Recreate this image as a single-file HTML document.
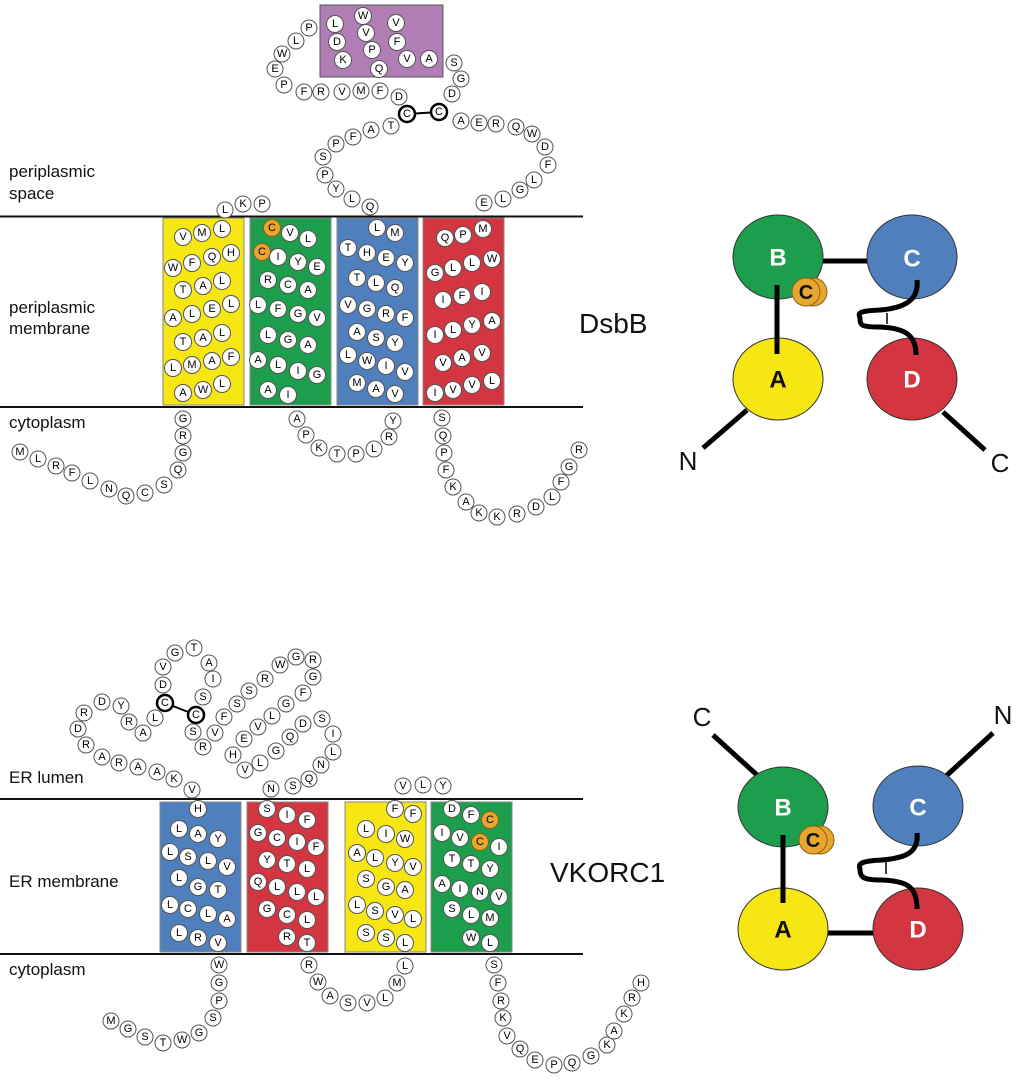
<!DOCTYPE html>
<html><head><meta charset="utf-8">
<style>
html,body{margin:0;padding:0;background:#fff;}
svg{display:block;}
.r circle{fill:#fff;stroke:#555;stroke-width:1;}
.r text{font-family:"Liberation Sans",sans-serif;font-size:11px;text-anchor:middle;dominant-baseline:central;fill:#000;}
.o circle{fill:#e8a631;stroke:#8a6010;}
.b circle{stroke:#000;stroke-width:2.5;}
.lab{font-family:"Liberation Sans",sans-serif;font-size:17px;fill:#111;}
.big{font-family:"Liberation Sans",sans-serif;font-size:28px;fill:#111;}
.dl{font-family:"Liberation Sans",sans-serif;font-size:24px;font-weight:bold;text-anchor:middle;dominant-baseline:central;}
.nl{font-family:"Liberation Sans",sans-serif;font-size:26px;text-anchor:middle;dominant-baseline:central;fill:#111;}
</style></head><body>
<svg width="1024" height="1081" viewBox="0 0 1024 1081" xmlns="http://www.w3.org/2000/svg">
<!-- DsbB membrane -->
<rect x="320" y="5" width="123" height="72" fill="#b07eb5" stroke="#555" stroke-width="1"/>
<rect x="163" y="218" width="81" height="187" fill="#f5e614" stroke="#888"/>
<rect x="250" y="218" width="81" height="187" fill="#1d9e4c" stroke="#888"/>
<rect x="337" y="218" width="81" height="187" fill="#4f80bd" stroke="#888"/>
<rect x="423" y="218" width="81" height="187" fill="#d33641" stroke="#888"/>
<line x1="0" y1="216.5" x2="583" y2="216.5" stroke="#111" stroke-width="2"/>
<line x1="0" y1="407" x2="583" y2="407" stroke="#111" stroke-width="2"/>
<line x1="407" y1="114" x2="439" y2="112" stroke="#000" stroke-width="2"/>
<text class="lab" x="9" y="177">periplasmic</text>
<text class="lab" x="9" y="199">space</text>
<text class="lab" x="9" y="313">periplasmic</text>
<text class="lab" x="9" y="334">membrane</text>
<text class="lab" x="9" y="428">cytoplasm</text>
<text class="big" x="579" y="333">DsbB</text>

<g class="r">
<!-- purple box -->
<g transform="translate(335,24)"><circle r="8.5"/><text>L</text></g>
<g transform="translate(363,16)"><circle r="8.5"/><text>W</text></g>
<g transform="translate(396,23)"><circle r="8.5"/><text>V</text></g>
<g transform="translate(337,42)"><circle r="8.5"/><text>D</text></g>
<g transform="translate(366,33)"><circle r="8.5"/><text>V</text></g>
<g transform="translate(397,42)"><circle r="8.5"/><text>F</text></g>
<g transform="translate(343,60)"><circle r="8.5"/><text>K</text></g>
<g transform="translate(372,50)"><circle r="8.5"/><text>P</text></g>
<g transform="translate(407,59)"><circle r="8.5"/><text>V</text></g>
<g transform="translate(429,59)"><circle r="8.5"/><text>A</text></g>
<g transform="translate(379,69)"><circle r="8.5"/><text>Q</text></g>
<!-- loop -->
<g transform="translate(309,28)"><circle r="8"/><text>P</text></g>
<g transform="translate(296,41)"><circle r="8"/><text>L</text></g>
<g transform="translate(282,54)"><circle r="8"/><text>W</text></g>
<g transform="translate(275,69)"><circle r="8"/><text>E</text></g>
<g transform="translate(284,85)"><circle r="8"/><text>P</text></g>
<g transform="translate(304,92)"><circle r="8"/><text>F</text></g>
<g transform="translate(321,92)"><circle r="8"/><text>R</text></g>
<g transform="translate(342,92)"><circle r="8"/><text>V</text></g>
<g transform="translate(361,91)"><circle r="8"/><text>M</text></g>
<g transform="translate(380,91)"><circle r="8"/><text>F</text></g>
<g transform="translate(399,97)"><circle r="8"/><text>D</text></g>
<g class="b" transform="translate(407,114)"><circle r="8"/><text>C</text></g>
<g class="b" transform="translate(439,112)"><circle r="8"/><text>C</text></g>
<g transform="translate(452,94)"><circle r="8"/><text>D</text></g>
<g transform="translate(461,79)"><circle r="8"/><text>G</text></g>
<g transform="translate(454,63)"><circle r="8"/><text>S</text></g>
<g transform="translate(461,121)"><circle r="8"/><text>A</text></g>
<g transform="translate(479,123)"><circle r="8"/><text>E</text></g>
<g transform="translate(496,124)"><circle r="8"/><text>R</text></g>
<g transform="translate(516,127)"><circle r="8"/><text>Q</text></g>
<g transform="translate(532,134)"><circle r="8"/><text>W</text></g>
<g transform="translate(545,147)"><circle r="8"/><text>D</text></g>
<g transform="translate(548,165)"><circle r="8"/><text>F</text></g>
<g transform="translate(534,180)"><circle r="8"/><text>L</text></g>
<g transform="translate(520,190)"><circle r="8"/><text>G</text></g>
<g transform="translate(503,199)"><circle r="8"/><text>L</text></g>
<g transform="translate(484,203)"><circle r="8"/><text>E</text></g>
<g transform="translate(391,126)"><circle r="8"/><text>T</text></g>
<g transform="translate(371,130)"><circle r="8"/><text>A</text></g>
<g transform="translate(353,137)"><circle r="8"/><text>F</text></g>
<g transform="translate(336,144)"><circle r="8"/><text>P</text></g>
<g transform="translate(323,157)"><circle r="8"/><text>S</text></g>
<g transform="translate(325,175)"><circle r="8"/><text>P</text></g>
<g transform="translate(336,189)"><circle r="8"/><text>Y</text></g>
<g transform="translate(352,199)"><circle r="8"/><text>L</text></g>
<g transform="translate(370,207)"><circle r="8"/><text>Q</text></g>
<g transform="translate(225,210)"><circle r="8"/><text>L</text></g>
<g transform="translate(243,204)"><circle r="8"/><text>K</text></g>
<g transform="translate(262,204)"><circle r="8"/><text>P</text></g>
<!-- yellow -->
<g transform="translate(183,237)"><circle r="8.5"/><text>V</text></g>
<g transform="translate(202,233)"><circle r="8.5"/><text>M</text></g>
<g transform="translate(222,229)"><circle r="8.5"/><text>L</text></g>
<g transform="translate(173,268)"><circle r="8.5"/><text>W</text></g>
<g transform="translate(192,263)"><circle r="8.5"/><text>F</text></g>
<g transform="translate(212,257)"><circle r="8.5"/><text>Q</text></g>
<g transform="translate(231,253)"><circle r="8.5"/><text>H</text></g>
<g transform="translate(183,290)"><circle r="8.5"/><text>T</text></g>
<g transform="translate(203,286)"><circle r="8.5"/><text>A</text></g>
<g transform="translate(222,281)"><circle r="8.5"/><text>L</text></g>
<g transform="translate(173,318)"><circle r="8.5"/><text>A</text></g>
<g transform="translate(192,314)"><circle r="8.5"/><text>L</text></g>
<g transform="translate(212,309)"><circle r="8.5"/><text>E</text></g>
<g transform="translate(231,304)"><circle r="8.5"/><text>L</text></g>
<g transform="translate(183,342)"><circle r="8.5"/><text>T</text></g>
<g transform="translate(203,338)"><circle r="8.5"/><text>A</text></g>
<g transform="translate(222,333)"><circle r="8.5"/><text>L</text></g>
<g transform="translate(173,368)"><circle r="8.5"/><text>L</text></g>
<g transform="translate(192,365)"><circle r="8.5"/><text>M</text></g>
<g transform="translate(212,361)"><circle r="8.5"/><text>A</text></g>
<g transform="translate(231,357)"><circle r="8.5"/><text>F</text></g>
<g transform="translate(183,393)"><circle r="8.5"/><text>A</text></g>
<g transform="translate(203,390)"><circle r="8.5"/><text>W</text></g>
<g transform="translate(222,384)"><circle r="8.5"/><text>L</text></g>
<!-- green -->
<g class="o" transform="translate(272,228)"><circle r="8.5"/><text>C</text></g>
<g transform="translate(290,233)"><circle r="8.5"/><text>V</text></g>
<g transform="translate(308,239)"><circle r="8.5"/><text>L</text></g>
<g class="o" transform="translate(262,252)"><circle r="8.5"/><text>C</text></g>
<g transform="translate(278,257)"><circle r="8.5"/><text>I</text></g>
<g transform="translate(298,262)"><circle r="8.5"/><text>Y</text></g>
<g transform="translate(317,267)"><circle r="8.5"/><text>E</text></g>
<g transform="translate(268,280)"><circle r="8.5"/><text>R</text></g>
<g transform="translate(288,285)"><circle r="8.5"/><text>C</text></g>
<g transform="translate(308,290)"><circle r="8.5"/><text>A</text></g>
<g transform="translate(258,305)"><circle r="8.5"/><text>L</text></g>
<g transform="translate(278,309)"><circle r="8.5"/><text>F</text></g>
<g transform="translate(298,314)"><circle r="8.5"/><text>G</text></g>
<g transform="translate(317,318)"><circle r="8.5"/><text>V</text></g>
<g transform="translate(268,335)"><circle r="8.5"/><text>L</text></g>
<g transform="translate(288,340)"><circle r="8.5"/><text>G</text></g>
<g transform="translate(308,345)"><circle r="8.5"/><text>A</text></g>
<g transform="translate(258,360)"><circle r="8.5"/><text>A</text></g>
<g transform="translate(278,365)"><circle r="8.5"/><text>L</text></g>
<g transform="translate(298,371)"><circle r="8.5"/><text>I</text></g>
<g transform="translate(317,375)"><circle r="8.5"/><text>G</text></g>
<g transform="translate(268,390)"><circle r="8.5"/><text>A</text></g>
<g transform="translate(288,395)"><circle r="8.5"/><text>I</text></g>
<!-- blue -->
<g transform="translate(377,228)"><circle r="8.5"/><text>L</text></g>
<g transform="translate(395,233)"><circle r="8.5"/><text>M</text></g>
<g transform="translate(348,248)"><circle r="8.5"/><text>T</text></g>
<g transform="translate(367,253)"><circle r="8.5"/><text>H</text></g>
<g transform="translate(386,258)"><circle r="8.5"/><text>E</text></g>
<g transform="translate(405,263)"><circle r="8.5"/><text>Y</text></g>
<g transform="translate(357,278)"><circle r="8.5"/><text>T</text></g>
<g transform="translate(376,283)"><circle r="8.5"/><text>L</text></g>
<g transform="translate(395,288)"><circle r="8.5"/><text>Q</text></g>
<g transform="translate(348,305)"><circle r="8.5"/><text>V</text></g>
<g transform="translate(367,309)"><circle r="8.5"/><text>G</text></g>
<g transform="translate(386,314)"><circle r="8.5"/><text>R</text></g>
<g transform="translate(405,318)"><circle r="8.5"/><text>F</text></g>
<g transform="translate(357,332)"><circle r="8.5"/><text>A</text></g>
<g transform="translate(376,338)"><circle r="8.5"/><text>S</text></g>
<g transform="translate(395,343)"><circle r="8.5"/><text>Y</text></g>
<g transform="translate(348,355)"><circle r="8.5"/><text>L</text></g>
<g transform="translate(367,361)"><circle r="8.5"/><text>W</text></g>
<g transform="translate(386,366)"><circle r="8.5"/><text>I</text></g>
<g transform="translate(405,372)"><circle r="8.5"/><text>V</text></g>
<g transform="translate(357,383)"><circle r="8.5"/><text>M</text></g>
<g transform="translate(376,389)"><circle r="8.5"/><text>A</text></g>
<g transform="translate(395,394)"><circle r="8.5"/><text>V</text></g>
<!-- red -->
<g transform="translate(445,238)"><circle r="8.5"/><text>Q</text></g>
<g transform="translate(463,235)"><circle r="8.5"/><text>P</text></g>
<g transform="translate(483,229)"><circle r="8.5"/><text>M</text></g>
<g transform="translate(435,273)"><circle r="8.5"/><text>G</text></g>
<g transform="translate(453,268)"><circle r="8.5"/><text>L</text></g>
<g transform="translate(472,263)"><circle r="8.5"/><text>L</text></g>
<g transform="translate(492,259)"><circle r="8.5"/><text>W</text></g>
<g transform="translate(443,300)"><circle r="8.5"/><text>I</text></g>
<g transform="translate(462,296)"><circle r="8.5"/><text>F</text></g>
<g transform="translate(482,292)"><circle r="8.5"/><text>I</text></g>
<g transform="translate(435,335)"><circle r="8.5"/><text>I</text></g>
<g transform="translate(453,330)"><circle r="8.5"/><text>L</text></g>
<g transform="translate(472,325)"><circle r="8.5"/><text>Y</text></g>
<g transform="translate(492,321)"><circle r="8.5"/><text>A</text></g>
<g transform="translate(443,363)"><circle r="8.5"/><text>V</text></g>
<g transform="translate(462,358)"><circle r="8.5"/><text>A</text></g>
<g transform="translate(482,353)"><circle r="8.5"/><text>V</text></g>
<g transform="translate(435,393)"><circle r="8.5"/><text>I</text></g>
<g transform="translate(453,390)"><circle r="8.5"/><text>V</text></g>
<g transform="translate(472,385)"><circle r="8.5"/><text>V</text></g>
<g transform="translate(492,381)"><circle r="8.5"/><text>L</text></g>
<!-- cytoplasm DsbB -->
<g transform="translate(183,419)"><circle r="8"/><text>G</text></g>
<g transform="translate(183,436)"><circle r="8"/><text>R</text></g>
<g transform="translate(183,453)"><circle r="8"/><text>G</text></g>
<g transform="translate(178,470)"><circle r="8"/><text>Q</text></g>
<g transform="translate(164,485)"><circle r="8"/><text>S</text></g>
<g transform="translate(145,493)"><circle r="8"/><text>C</text></g>
<g transform="translate(126,496)"><circle r="8"/><text>Q</text></g>
<g transform="translate(109,489)"><circle r="8"/><text>N</text></g>
<g transform="translate(90,481)"><circle r="8"/><text>L</text></g>
<g transform="translate(72,473)"><circle r="8"/><text>F</text></g>
<g transform="translate(56,466)"><circle r="8"/><text>R</text></g>
<g transform="translate(38,459)"><circle r="8"/><text>L</text></g>
<g transform="translate(20,452)"><circle r="8"/><text>M</text></g>
<g transform="translate(297,419)"><circle r="8"/><text>A</text></g>
<g transform="translate(306,435)"><circle r="8"/><text>P</text></g>
<g transform="translate(319,448)"><circle r="8"/><text>K</text></g>
<g transform="translate(337,454)"><circle r="8"/><text>T</text></g>
<g transform="translate(356,454)"><circle r="8"/><text>P</text></g>
<g transform="translate(374,449)"><circle r="8"/><text>L</text></g>
<g transform="translate(389,437)"><circle r="8"/><text>R</text></g>
<g transform="translate(393,421)"><circle r="8"/><text>Y</text></g>
<g transform="translate(442,418)"><circle r="8"/><text>S</text></g>
<g transform="translate(443,436)"><circle r="8"/><text>Q</text></g>
<g transform="translate(444,453)"><circle r="8"/><text>P</text></g>
<g transform="translate(446,470)"><circle r="8"/><text>F</text></g>
<g transform="translate(453,487)"><circle r="8"/><text>K</text></g>
<g transform="translate(466,502)"><circle r="8"/><text>A</text></g>
<g transform="translate(479,513)"><circle r="8"/><text>K</text></g>
<g transform="translate(497,517)"><circle r="8"/><text>K</text></g>
<g transform="translate(517,514)"><circle r="8"/><text>R</text></g>
<g transform="translate(536,507)"><circle r="8"/><text>D</text></g>
<g transform="translate(552,497)"><circle r="8"/><text>L</text></g>
<g transform="translate(561,482)"><circle r="8"/><text>F</text></g>
<g transform="translate(569,467)"><circle r="8"/><text>G</text></g>
<g transform="translate(579,450)"><circle r="8"/><text>R</text></g>
</g>

<!-- VKORC1 -->
<rect x="160" y="802" width="81" height="150" fill="#4f80bd" stroke="#888"/>
<rect x="247" y="802" width="81" height="150" fill="#d33641" stroke="#888"/>
<rect x="345" y="802" width="81" height="150" fill="#f5e614" stroke="#888"/>
<rect x="431" y="802" width="81" height="150" fill="#1d9e4c" stroke="#888"/>
<line x1="0" y1="799" x2="583" y2="799" stroke="#111" stroke-width="2"/>
<line x1="0" y1="954" x2="583" y2="954" stroke="#111" stroke-width="2"/>
<line x1="165" y1="703" x2="196" y2="715" stroke="#000" stroke-width="2"/>
<text class="lab" x="9" y="783">ER lumen</text>
<text class="lab" x="9" y="887">ER membrane</text>
<text class="lab" x="9" y="975">cytoplasm</text>
<text class="big" x="550" y="882">VKORC1</text>

<g class="r">
<g transform="translate(163,667)"><circle r="8"/><text>V</text></g>
<g transform="translate(175,653)"><circle r="8"/><text>G</text></g>
<g transform="translate(194,648)"><circle r="8"/><text>T</text></g>
<g transform="translate(209,663)"><circle r="8"/><text>A</text></g>
<g transform="translate(213,679)"><circle r="8"/><text>I</text></g>
<g transform="translate(203,697)"><circle r="8"/><text>S</text></g>
<g class="b" transform="translate(196,715)"><circle r="8"/><text>C</text></g>
<g transform="translate(163,685)"><circle r="8"/><text>D</text></g>
<g class="b" transform="translate(165,703)"><circle r="8"/><text>C</text></g>
<g transform="translate(155,718)"><circle r="8"/><text>L</text></g>
<g transform="translate(143,733)"><circle r="8"/><text>A</text></g>
<g transform="translate(129,722)"><circle r="8"/><text>R</text></g>
<g transform="translate(121,706)"><circle r="8"/><text>Y</text></g>
<g transform="translate(102,702)"><circle r="8"/><text>D</text></g>
<g transform="translate(84,713)"><circle r="8"/><text>R</text></g>
<g transform="translate(78,729)"><circle r="8"/><text>D</text></g>
<g transform="translate(86,745)"><circle r="8"/><text>R</text></g>
<g transform="translate(102,757)"><circle r="8"/><text>A</text></g>
<g transform="translate(119,763)"><circle r="8"/><text>R</text></g>
<g transform="translate(138,767)"><circle r="8"/><text>A</text></g>
<g transform="translate(157,772)"><circle r="8"/><text>A</text></g>
<g transform="translate(174,779)"><circle r="8"/><text>K</text></g>
<g transform="translate(192,790)"><circle r="8"/><text>V</text></g>
<g transform="translate(193,732)"><circle r="8"/><text>S</text></g>
<g transform="translate(203,747)"><circle r="8"/><text>R</text></g>
<g transform="translate(215,733)"><circle r="8"/><text>V</text></g>
<g transform="translate(224,717)"><circle r="8"/><text>F</text></g>
<g transform="translate(237,704)"><circle r="8"/><text>S</text></g>
<g transform="translate(249,691)"><circle r="8"/><text>S</text></g>
<g transform="translate(265,679)"><circle r="8"/><text>R</text></g>
<g transform="translate(280,665)"><circle r="8"/><text>W</text></g>
<g transform="translate(296,657)"><circle r="8"/><text>G</text></g>
<g transform="translate(313,660)"><circle r="8"/><text>R</text></g>
<g transform="translate(313,677)"><circle r="8"/><text>G</text></g>
<g transform="translate(303,693)"><circle r="8"/><text>F</text></g>
<g transform="translate(286,704)"><circle r="8"/><text>G</text></g>
<g transform="translate(272,716)"><circle r="8"/><text>L</text></g>
<g transform="translate(258,727)"><circle r="8"/><text>V</text></g>
<g transform="translate(244,739)"><circle r="8"/><text>E</text></g>
<g transform="translate(233,755)"><circle r="8"/><text>H</text></g>
<g transform="translate(245,770)"><circle r="8"/><text>V</text></g>
<g transform="translate(260,763)"><circle r="8"/><text>L</text></g>
<g transform="translate(276,751)"><circle r="8"/><text>G</text></g>
<g transform="translate(290,737)"><circle r="8"/><text>Q</text></g>
<g transform="translate(303,724)"><circle r="8"/><text>D</text></g>
<g transform="translate(322,719)"><circle r="8"/><text>S</text></g>
<g transform="translate(333,734)"><circle r="8"/><text>I</text></g>
<g transform="translate(333,752)"><circle r="8"/><text>L</text></g>
<g transform="translate(321,765)"><circle r="8"/><text>N</text></g>
<g transform="translate(309,779)"><circle r="8"/><text>Q</text></g>
<g transform="translate(293,786)"><circle r="8"/><text>S</text></g>
<g transform="translate(271,789)"><circle r="8"/><text>N</text></g>
<g transform="translate(403,786)"><circle r="8"/><text>V</text></g>
<g transform="translate(423,785)"><circle r="8"/><text>L</text></g>
<g transform="translate(443,786)"><circle r="8"/><text>Y</text></g>
<!-- blue -->
<g transform="translate(198,809)"><circle r="8.5"/><text>H</text></g>
<g transform="translate(179,829)"><circle r="8.5"/><text>L</text></g>
<g transform="translate(198,834)"><circle r="8.5"/><text>A</text></g>
<g transform="translate(218,839)"><circle r="8.5"/><text>Y</text></g>
<g transform="translate(170,852)"><circle r="8.5"/><text>L</text></g>
<g transform="translate(188,857)"><circle r="8.5"/><text>S</text></g>
<g transform="translate(208,861)"><circle r="8.5"/><text>L</text></g>
<g transform="translate(227,867)"><circle r="8.5"/><text>V</text></g>
<g transform="translate(179,878)"><circle r="8.5"/><text>L</text></g>
<g transform="translate(198,887)"><circle r="8.5"/><text>G</text></g>
<g transform="translate(218,890)"><circle r="8.5"/><text>T</text></g>
<g transform="translate(170,905)"><circle r="8.5"/><text>L</text></g>
<g transform="translate(188,909)"><circle r="8.5"/><text>C</text></g>
<g transform="translate(208,914)"><circle r="8.5"/><text>L</text></g>
<g transform="translate(227,919)"><circle r="8.5"/><text>A</text></g>
<g transform="translate(179,933)"><circle r="8.5"/><text>L</text></g>
<g transform="translate(198,938)"><circle r="8.5"/><text>R</text></g>
<g transform="translate(218,943)"><circle r="8.5"/><text>V</text></g>
<!-- red -->
<g transform="translate(267,809)"><circle r="8.5"/><text>S</text></g>
<g transform="translate(287,815)"><circle r="8.5"/><text>I</text></g>
<g transform="translate(307,820)"><circle r="8.5"/><text>F</text></g>
<g transform="translate(258,833)"><circle r="8.5"/><text>G</text></g>
<g transform="translate(277,838)"><circle r="8.5"/><text>C</text></g>
<g transform="translate(297,842)"><circle r="8.5"/><text>I</text></g>
<g transform="translate(316,847)"><circle r="8.5"/><text>F</text></g>
<g transform="translate(267,860)"><circle r="8.5"/><text>Y</text></g>
<g transform="translate(287,864)"><circle r="8.5"/><text>T</text></g>
<g transform="translate(307,869)"><circle r="8.5"/><text>L</text></g>
<g transform="translate(258,882)"><circle r="8.5"/><text>Q</text></g>
<g transform="translate(277,887)"><circle r="8.5"/><text>L</text></g>
<g transform="translate(297,892)"><circle r="8.5"/><text>L</text></g>
<g transform="translate(316,897)"><circle r="8.5"/><text>L</text></g>
<g transform="translate(267,909)"><circle r="8.5"/><text>G</text></g>
<g transform="translate(287,915)"><circle r="8.5"/><text>C</text></g>
<g transform="translate(307,920)"><circle r="8.5"/><text>L</text></g>
<g transform="translate(287,937)"><circle r="8.5"/><text>R</text></g>
<g transform="translate(307,943)"><circle r="8.5"/><text>T</text></g>
<!-- yellow -->
<g transform="translate(395,809)"><circle r="8.5"/><text>F</text></g>
<g transform="translate(413,814)"><circle r="8.5"/><text>F</text></g>
<g transform="translate(366,829)"><circle r="8.5"/><text>L</text></g>
<g transform="translate(386,834)"><circle r="8.5"/><text>I</text></g>
<g transform="translate(405,839)"><circle r="8.5"/><text>W</text></g>
<g transform="translate(357,853)"><circle r="8.5"/><text>A</text></g>
<g transform="translate(375,858)"><circle r="8.5"/><text>L</text></g>
<g transform="translate(395,863)"><circle r="8.5"/><text>Y</text></g>
<g transform="translate(413,867)"><circle r="8.5"/><text>V</text></g>
<g transform="translate(366,879)"><circle r="8.5"/><text>S</text></g>
<g transform="translate(386,887)"><circle r="8.5"/><text>G</text></g>
<g transform="translate(405,890)"><circle r="8.5"/><text>A</text></g>
<g transform="translate(357,905)"><circle r="8.5"/><text>L</text></g>
<g transform="translate(375,911)"><circle r="8.5"/><text>S</text></g>
<g transform="translate(395,915)"><circle r="8.5"/><text>V</text></g>
<g transform="translate(413,919)"><circle r="8.5"/><text>L</text></g>
<g transform="translate(366,933)"><circle r="8.5"/><text>S</text></g>
<g transform="translate(386,938)"><circle r="8.5"/><text>S</text></g>
<g transform="translate(405,943)"><circle r="8.5"/><text>L</text></g>
<!-- green -->
<g transform="translate(452,809)"><circle r="8.5"/><text>D</text></g>
<g transform="translate(471,815)"><circle r="8.5"/><text>F</text></g>
<g class="o" transform="translate(490,820)"><circle r="8.5"/><text>C</text></g>
<g transform="translate(442,833)"><circle r="8.5"/><text>I</text></g>
<g transform="translate(460,838)"><circle r="8.5"/><text>V</text></g>
<g class="o" transform="translate(480,842)"><circle r="8.5"/><text>C</text></g>
<g transform="translate(499,847)"><circle r="8.5"/><text>I</text></g>
<g transform="translate(452,859)"><circle r="8.5"/><text>T</text></g>
<g transform="translate(471,864)"><circle r="8.5"/><text>T</text></g>
<g transform="translate(490,869)"><circle r="8.5"/><text>Y</text></g>
<g transform="translate(442,884)"><circle r="8.5"/><text>A</text></g>
<g transform="translate(460,889)"><circle r="8.5"/><text>I</text></g>
<g transform="translate(480,892)"><circle r="8.5"/><text>N</text></g>
<g transform="translate(499,897)"><circle r="8.5"/><text>V</text></g>
<g transform="translate(452,909)"><circle r="8.5"/><text>S</text></g>
<g transform="translate(471,915)"><circle r="8.5"/><text>L</text></g>
<g transform="translate(490,918)"><circle r="8.5"/><text>M</text></g>
<g transform="translate(471,938)"><circle r="8.5"/><text>W</text></g>
<g transform="translate(490,943)"><circle r="8.5"/><text>L</text></g>
<!-- cytoplasm VKORC1 -->
<g transform="translate(219,965)"><circle r="8"/><text>W</text></g>
<g transform="translate(219,983)"><circle r="8"/><text>G</text></g>
<g transform="translate(219,1001)"><circle r="8"/><text>P</text></g>
<g transform="translate(213,1018)"><circle r="8"/><text>S</text></g>
<g transform="translate(199,1033)"><circle r="8"/><text>G</text></g>
<g transform="translate(182,1040)"><circle r="8"/><text>W</text></g>
<g transform="translate(163,1043)"><circle r="8"/><text>T</text></g>
<g transform="translate(145,1037)"><circle r="8"/><text>S</text></g>
<g transform="translate(128,1029)"><circle r="8"/><text>G</text></g>
<g transform="translate(111,1021)"><circle r="8"/><text>M</text></g>
<g transform="translate(309,965)"><circle r="8"/><text>R</text></g>
<g transform="translate(318,982)"><circle r="8"/><text>W</text></g>
<g transform="translate(330,996)"><circle r="8"/><text>A</text></g>
<g transform="translate(348,1003)"><circle r="8"/><text>S</text></g>
<g transform="translate(367,1003)"><circle r="8"/><text>V</text></g>
<g transform="translate(385,998)"><circle r="8"/><text>L</text></g>
<g transform="translate(397,983)"><circle r="8"/><text>M</text></g>
<g transform="translate(405,966)"><circle r="8"/><text>L</text></g>
<g transform="translate(494,965)"><circle r="8"/><text>S</text></g>
<g transform="translate(498,983)"><circle r="8"/><text>F</text></g>
<g transform="translate(501,1001)"><circle r="8"/><text>R</text></g>
<g transform="translate(503,1018)"><circle r="8"/><text>K</text></g>
<g transform="translate(507,1036)"><circle r="8"/><text>V</text></g>
<g transform="translate(520,1049)"><circle r="8"/><text>Q</text></g>
<g transform="translate(535,1060)"><circle r="8"/><text>E</text></g>
<g transform="translate(554,1065)"><circle r="8"/><text>P</text></g>
<g transform="translate(572,1063)"><circle r="8"/><text>Q</text></g>
<g transform="translate(591,1056)"><circle r="8"/><text>G</text></g>
<g transform="translate(607,1045)"><circle r="8"/><text>K</text></g>
<g transform="translate(614,1031)"><circle r="8"/><text>A</text></g>
<g transform="translate(624,1014)"><circle r="8"/><text>K</text></g>
<g transform="translate(632,998)"><circle r="8"/><text>R</text></g>
<g transform="translate(641,983)"><circle r="8"/><text>H</text></g>
</g>

<!-- DsbB topology cartoon -->
<g stroke="#000" stroke-width="5" stroke-linecap="butt" fill="none">
<line x1="822" y1="261" x2="868" y2="261"/>
<line x1="747" y1="410" x2="703" y2="448"/>
<line x1="943" y1="412" x2="985" y2="450"/>
</g>
<ellipse cx="778" cy="257" rx="45" ry="42" fill="#1d9e4c" stroke="#333"/>
<ellipse cx="912" cy="257" rx="45" ry="42" fill="#4f80bd" stroke="#333"/>
<ellipse cx="778" cy="379" rx="45" ry="41" fill="#f5e614" stroke="#333"/>
<ellipse cx="912" cy="379" rx="45" ry="41" fill="#d33641" stroke="#333"/>
<line x1="777" y1="285" x2="777" y2="354" stroke="#000" stroke-width="5"/>
<line x1="887" y1="313" x2="887" y2="324" stroke="#000" stroke-width="1.5"/>
<path d="M917,280 C919,300 905,308 880,310 C858,311 858,313 860,318 C860,326 862,327 880,327 C905,328 916,335 916,355" stroke="#000" stroke-width="5" fill="none"/>
<circle cx="813" cy="292" r="14" fill="#e8a631" stroke="#8a6010"/>
<circle cx="806" cy="292" r="14" fill="#e8a631" stroke="#8a6010"/>
<text class="dl" x="806" y="293" fill="#111" style="font-size:20px">C</text>
<text class="dl" x="778" y="258" fill="#fff">B</text>
<text class="dl" x="912" y="259" fill="#fff">C</text>
<text class="dl" x="778" y="380" fill="#111">A</text>
<text class="dl" x="912" y="380" fill="#fff">D</text>
<text class="nl" x="688" y="461">N</text>
<text class="nl" x="1000" y="463">C</text>

<!-- VKORC1 topology cartoon -->
<g stroke="#000" stroke-width="5" fill="none">
<line x1="713" y1="735" x2="757" y2="775"/>
<line x1="993" y1="733" x2="945" y2="777"/>
<line x1="826" y1="933" x2="875" y2="933"/>
</g>
<ellipse cx="783" cy="807" rx="45" ry="40" fill="#1d9e4c" stroke="#333"/>
<ellipse cx="918" cy="806" rx="45" ry="40" fill="#4f80bd" stroke="#333"/>
<ellipse cx="783" cy="929" rx="45" ry="41" fill="#f5e614" stroke="#333"/>
<ellipse cx="918" cy="929" rx="45" ry="41" fill="#d33641" stroke="#333"/>
<line x1="783" y1="835" x2="783" y2="903" stroke="#000" stroke-width="5"/>
<line x1="886" y1="862" x2="886" y2="874" stroke="#000" stroke-width="1.5"/>
<path d="M917,833 C919,853 905,858 882,860 C860,861 858,864 860,869 C860,878 864,880 882,880 C908,881 917,887 917,909" stroke="#000" stroke-width="5" fill="none"/>
<circle cx="820" cy="840" r="14" fill="#e8a631" stroke="#8a6010"/>
<circle cx="813" cy="840" r="14" fill="#e8a631" stroke="#8a6010"/>
<text class="dl" x="813" y="841" fill="#111" style="font-size:20px">C</text>
<text class="dl" x="783" y="808" fill="#fff">B</text>
<text class="dl" x="918" y="808" fill="#fff">C</text>
<text class="dl" x="783" y="930" fill="#111">A</text>
<text class="dl" x="918" y="930" fill="#fff">D</text>
<text class="nl" x="702" y="717">C</text>
<text class="nl" x="1003" y="715">N</text>
</svg>
</body></html>
